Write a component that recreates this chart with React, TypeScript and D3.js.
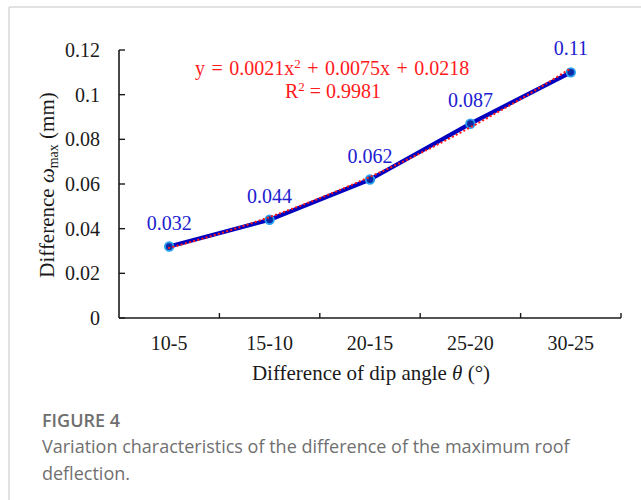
import React from "react";
import * as d3 from "d3";

const categories = ["10-5", "15-10", "20-15", "25-20", "30-25"];
const values = [0.032, 0.044, 0.062, 0.087, 0.11];
const valueLabels = ["0.032", "0.044", "0.062", "0.087", "0.11"];
const yTicks = [0, 0.02, 0.04, 0.06, 0.08, 0.1, 0.12];
const yTickLabels = ["0", "0.02", "0.04", "0.06", "0.08", "0.1", "0.12"];
// polynomial trendline coefficients as shown in the chart: a*x^2 + b*x + c
const trendCoefs = [0.0021, 0.0075, 0.0218];

const W = 641;
const H = 500;
const M = { left: 119, right: 621, top: 50, bottom: 318 };

export default function App() {
  const x = d3.scaleBand<string>().domain(categories).range([M.left, M.right]).padding(0);
  const y = d3.scaleLinear().domain([0, 0.12]).range([M.bottom, M.top]);
  const cx = (c: string) => (x(c) as number) + x.bandwidth() / 2;

  const line = d3
    .line<number>()
    .x((_, i) => cx(categories[i]))
    .y((v) => y(v));

  const trendPts: [number, number][] = [];
  for (let k = 0; k <= 80; k++) {
    const t = 1 + (4 * k) / 80;
    const v = trendCoefs[0] * t * t + trendCoefs[1] * t + trendCoefs[2];
    const px = cx(categories[0]) + (t - 1) * x.bandwidth();
    trendPts.push([px, y(v)]);
  }
  const trendLine = d3.line()(trendPts) as string;

  const serif = "'Liberation Serif', 'Times New Roman', serif";
  const sans = "'Open Sans', 'Noto Sans', sans-serif";
  const boundaries = categories.map((c) => x(c) as number).concat([M.right]);

  return (
    <svg width={W} height={H} style={{ position: "absolute", left: 0, top: 0, background: "#fff" }}>
      <line x1={9} y1={7} x2={W} y2={7} stroke="#d9d9d9" strokeWidth={1.5} />
      <line x1={9} y1={7} x2={9} y2={H} stroke="#d9d9d9" strokeWidth={1.5} />

      {/* axes */}
      <line x1={M.left} y1={M.top} x2={M.left} y2={M.bottom} stroke="#1a1a1a" strokeWidth={1.6} />
      <line x1={M.left} y1={M.bottom} x2={M.right} y2={M.bottom} stroke="#1a1a1a" strokeWidth={1.6} />
      {yTicks.map((t, i) => (
        <g key={"yt" + i}>
          <line x1={M.left} x2={M.left + 6} y1={y(t)} y2={y(t)} stroke="#1a1a1a" strokeWidth={1.4} />
          <text x={100} y={y(t)} dy="0.35em" textAnchor="end" fontFamily={serif} fontSize={20} fill="#1a1a1a">
            {yTickLabels[i]}
          </text>
        </g>
      ))}
      {boundaries.slice(1).map((b, i) => (
        <line key={"xt" + i} x1={b} x2={b} y1={M.bottom} y2={M.bottom - 5} stroke="#1a1a1a" strokeWidth={1.4} />
      ))}
      {categories.map((c) => (
        <text key={"xl" + c} x={cx(c)} y={350} textAnchor="middle" fontFamily={serif} fontSize={20} fill="#1a1a1a">
          {c}
        </text>
      ))}

      {/* axis titles */}
      <text x={371} y={380} textAnchor="middle" fontFamily={serif} fontSize={21} fill="#1a1a1a">
        Difference of dip angle <tspan fontStyle="italic">θ</tspan> (°)
      </text>
      <text
        transform={`translate(54,185) rotate(-90)`}
        textAnchor="middle"
        fontFamily={serif}
        fontSize={21}
        fill="#1a1a1a"
      >
        Difference <tspan fontStyle="italic">ω</tspan>
        <tspan fontSize={14} dy={4}>max</tspan>
        <tspan dy={-4}> (mm)</tspan>
      </text>

      {/* series */}
      <path d={line(values) as string} fill="none" stroke="#0000c0" strokeWidth={4.2} strokeLinejoin="round" />
      {values.map((v, i) => (
        <circle key={"pt" + i} cx={cx(categories[i])} cy={y(v)} r={4.3} fill="#0a2aa8" stroke="#2a9ff0" strokeWidth={1.8} />
      ))}
      <path
        d={trendLine}
        fill="none"
        stroke="#ff1a1a"
        strokeWidth={2.2}
        strokeLinecap="round"
        strokeDasharray="0.1 4.2"
      />

      {values.map((v, i) => (
        <text
          key={"vl" + i}
          x={cx(categories[i])}
          y={y(v) - 17}
          textAnchor="middle"
          fontFamily={serif}
          fontSize={20}
          fill="#2020d0"
        >
          {valueLabels[i]}
        </text>
      ))}

      {/* equation */}
      <text x={195} y={75} fontFamily={serif} fontSize={20} fill="#ff1a1a" wordSpacing={1.5}>
        y = 0.0021x<tspan fontSize={13} dy={-7}>2</tspan>
        <tspan dy={7}> + 0.0075x + 0.0218</tspan>
      </text>
      <text x={285} y={98} fontFamily={serif} fontSize={20} fill="#ff1a1a">
        R<tspan fontSize={13} dy={-7}>2</tspan>
        <tspan dy={7}> = 0.9981</tspan>
      </text>

      {/* caption */}
      <text x={42} y={427} fontFamily={sans} fontSize={18} fontWeight={600} fill="#6e6e6e">
        FIGURE 4
      </text>
      <text x={42} y={453} fontFamily={sans} fontSize={18} fill="#707070">
        Variation characteristics of the difference of the maximum roof
      </text>
      <text x={42} y={480} fontFamily={sans} fontSize={18} fill="#707070">
        deflection.
      </text>
    </svg>
  );
}
